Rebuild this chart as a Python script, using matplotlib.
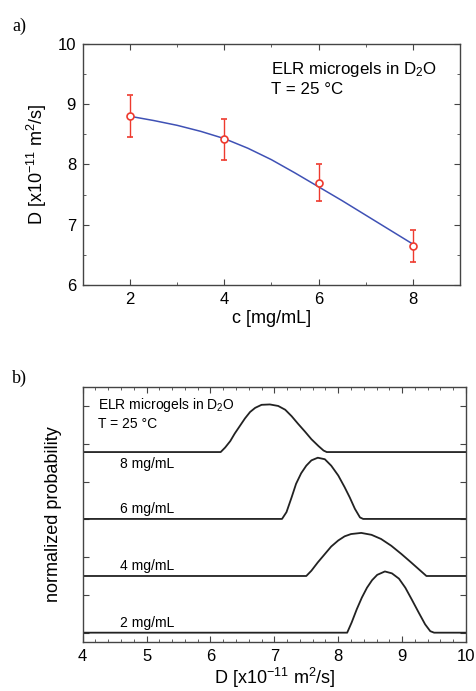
import matplotlib
matplotlib.use("Agg")
import matplotlib.pyplot as plt
from matplotlib.ticker import MultipleLocator, NullFormatter

plt.rcParams["font.family"] = ["Liberation Sans", "DejaVu Sans"]
plt.rcParams["mathtext.default"] = "regular"

# panel a: diffusion coefficient vs concentration
conc = [2, 4, 6, 8]
diff = [8.80, 8.42, 7.70, 6.65]
diff_err = [0.35, 0.34, 0.31, 0.27]
fit_c = [2, 2.5, 3, 3.5, 4, 4.5, 5, 5.5, 6, 6.5, 7, 7.5, 8]
fit_d = [8.80, 8.73, 8.65, 8.55, 8.43, 8.27, 8.08, 7.86, 7.63, 7.40, 7.16, 6.92, 6.68]

# panel b: distributions (x, height above baseline), one per concentration
dist_labels = ["2 mg/mL", "4 mg/mL", "6 mg/mL", "8 mg/mL"]
dist_offsets = [0.0, 1.50, 3.01, 4.78]
dist_x = [
    [4.0, 8.14, 8.21, 8.29, 8.37, 8.45, 8.53, 8.61, 8.73, 8.84, 8.95, 9.05,
     9.15, 9.26, 9.36, 9.44, 9.50, 10.0],
    [4.0, 7.50, 7.58, 7.68, 7.79, 7.89, 8.00, 8.10, 8.20, 8.36, 8.52, 8.67,
     8.83, 8.99, 9.14, 9.30, 9.38, 10.0],
    [4.0, 7.12, 7.19, 7.27, 7.34, 7.42, 7.50, 7.58, 7.68, 7.79, 7.89, 8.00,
     8.10, 8.18, 8.26, 8.34, 8.39, 10.0],
    [4.0, 6.16, 6.23, 6.31, 6.38, 6.46, 6.54, 6.62, 6.70, 6.80, 6.93, 7.06,
     7.17, 7.27, 7.37, 7.48, 7.58, 7.69, 7.77, 7.82, 10.0],
]
dist_y = [
    [0, 0, 0.27, 0.62, 0.93, 1.19, 1.39, 1.53, 1.62, 1.57, 1.43, 1.19,
     0.88, 0.53, 0.22, 0.04, 0, 0],
    [0, 0, 0.14, 0.36, 0.58, 0.78, 0.94, 1.05, 1.11, 1.14, 1.09, 0.98,
     0.80, 0.58, 0.36, 0.12, 0, 0],
    [0, 0, 0.18, 0.57, 0.93, 1.21, 1.41, 1.55, 1.62, 1.58, 1.41, 1.15,
     0.84, 0.57, 0.27, 0.04, 0, 0],
    [0, 0, 0.12, 0.29, 0.49, 0.69, 0.89, 1.06, 1.17, 1.25, 1.26, 1.22,
     1.12, 0.95, 0.75, 0.54, 0.34, 0.16, 0.04, 0, 0],
]

red = "#ee3a2e"
blue = "#3f51b5"
spine_col = "#444444"


def style_axes(ax):
    ax.tick_params(which="both", direction="in", top=True, right=True,
                   color=spine_col, labelsize=12, pad=5)
    ax.tick_params(which="major", length=4)
    ax.tick_params(which="minor", length=2.5)
    for s in ax.spines.values():
        s.set_color(spine_col)
        s.set_linewidth(1.0)


fig = plt.figure(figsize=(4.77, 6.91), dpi=100)

# ---- panel a
ax1 = fig.add_axes([0.174, 0.5876, 0.790, 0.3487])
ax1.plot(fit_c, fit_d, color=blue, lw=1.1, zorder=2)
ax1.errorbar(conc, diff, yerr=diff_err, fmt="o", mfc="white", mec=red,
             ecolor=red, ms=5, mew=1.2, elinewidth=1.0, capsize=2.5,
             capthick=1.0, zorder=3)
ax1.set_xlim(1, 9)
ax1.set_ylim(6, 10)
ax1.xaxis.set_major_locator(MultipleLocator(2))
ax1.xaxis.set_minor_locator(MultipleLocator(1))
ax1.yaxis.set_major_locator(MultipleLocator(1))
ax1.yaxis.set_minor_locator(MultipleLocator(0.5))
style_axes(ax1)
ax1.set_xlabel("c [mg/mL]", fontsize=13, labelpad=2)
ax1.set_ylabel("D [x10$^{-11}$ m$^2$/s]", fontsize=13, labelpad=6)
ax1.text(0.5, 0.935, "ELR microgels in D$_2$O\nT = 25 °C", transform=ax1.transAxes,
         fontsize=12.2, va="top", ha="left", linespacing=1.3)

# ---- panel b
ax2 = fig.add_axes([0.1733, 0.0714, 0.8037, 0.369])
for lab, off, xs, ys in zip(dist_labels, dist_offsets, dist_x, dist_y):
    ax2.plot(xs, [off + v for v in ys], color="#222222", lw=1.3)
    if lab == "8 mg/mL":
        ax2.text(4.58, off - 0.12, lab, fontsize=10, va="top", ha="left")
    else:
        ax2.text(4.58, off + 0.08, lab, fontsize=10, va="bottom", ha="left")
ax2.set_xlim(4, 10)
ax2.set_ylim(-0.238, 6.51)
ax2.xaxis.set_major_locator(MultipleLocator(1))
ax2.xaxis.set_minor_locator(MultipleLocator(0.2))
ax2.yaxis.set_major_locator(MultipleLocator(1))
ax2.yaxis.set_major_formatter(NullFormatter())
style_axes(ax2)
ax2.set_xlabel("D [x10$^{-11}$ m$^2$/s]", fontsize=13, labelpad=2)
ax2.set_ylabel("normalized probability", fontsize=13, labelpad=10)
ax2.text(0.04, 0.965, "ELR microgels in D$_2$O\nT = 25 °C", transform=ax2.transAxes,
         fontsize=10, va="top", ha="left", linespacing=1.3)

fig.text(0.025, 0.975, "a)", fontsize=13, family="Liberation Serif", va="top")
fig.text(0.025, 0.465, "b)", fontsize=13, family="Liberation Serif", va="top")

fig.savefig("out.png", dpi=100)
